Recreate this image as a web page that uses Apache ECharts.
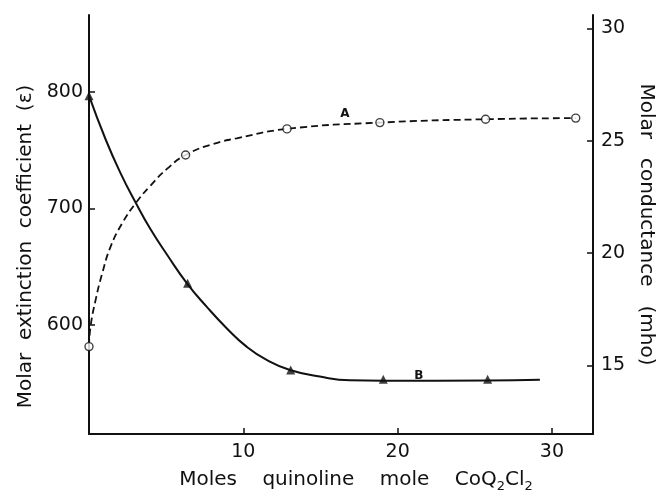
<!DOCTYPE html>
<html>
<head>
<meta charset="utf-8">
<script src="https://cdn.jsdelivr.net/npm/echarts@6/dist/echarts.min.js"></script>
<style>
  html, body { margin: 0; padding: 0; background: #fff; }
  #chart { width: 657px; height: 492px; }
</style>
</head>
<body>
<div id="chart"></div>
<script>
// measured points, [moles quinoline, value]
var pointsA = [[0, 15.83], [6.26, 24.36], [12.83, 25.52], [18.85, 25.8], [25.7, 25.95], [31.54, 26.0]];   // molar conductance
var pointsB = [[0, 796.6], [6.39, 635.8], [13.07, 561.5], [19.07, 553.5], [25.83, 553.5]];               // extinction coefficient

var curveA = [[0, 15.83], [0.10, 16.72], [0.43, 17.91], [0.86, 19.10], [1.40, 20.28], [2.15, 21.32],
    [3.02, 22.21], [3.99, 23.0], [5.07, 23.75], [6.26, 24.36], [8.05, 24.85], [9.57, 25.1],
    [12.83, 25.52], [18.85, 25.8], [25.7, 25.95], [31.54, 26.0]];
var curveB = [[0, 796.6], [1.08, 759], [2.05, 730], [3.02, 705], [3.99, 682], [5.07, 660],
    [6.36, 635.5], [7.62, 615.8], [8.92, 597.3], [10.21, 581.5], [11.51, 570.1], [13.02, 561.5],
    [14.96, 555.8], [16.91, 552.6], [19.07, 552.3], [25.83, 552.5], [29.22, 553]];

var xTicks = [10, 20, 30];
var leftTicks = [600, 700, 800];
var rightTicks = [15, 20, 25, 30];

var labelA = [16.58, 26.2];
var labelB = [21.38, 556];

var font = 'DejaVu Sans';
var ink = '#111';

var myChart = echarts.init(document.getElementById('chart'));

var axisCommon = {
    axisLine: { show: true, onZero: false, lineStyle: { color: ink, width: 2 } },
    axisTick: { show: true, inside: true, length: 6, lineStyle: { color: ink, width: 1.5 } },
    splitLine: { show: false },
    nameLocation: 'middle'
};

var option = {
    animation: false,
    backgroundColor: '#fff',
    grid: { left: 89, right: 64, top: 15, bottom: 58, outerBoundsMode: 'none', containLabel: false },
    xAxis: Object.assign({}, axisCommon, {
        type: 'value',
        min: 0,
        max: 32.66,
        axisTick: Object.assign({}, axisCommon.axisTick, { customValues: xTicks }),
        axisLabel: { customValues: xTicks, margin: 9, fontFamily: font, fontSize: 19, color: ink },
        name: 'Moles    quinoline    mole    CoQ{s|2}Cl{s|2}',
        nameGap: 28,
        nameTextStyle: {
            fontFamily: font, fontSize: 20, color: ink, lineHeight: 26,
            padding: [0, 0, 0, 30],
            rich: { s: { fontFamily: font, fontSize: 13, lineHeight: 12, verticalAlign: 'bottom', color: ink } }
        }
    }),
    yAxis: [
        Object.assign({}, axisCommon, {
            type: 'value',
            position: 'left',
            min: 506.6,
            max: 865.7,
            axisTick: Object.assign({}, axisCommon.axisTick, { customValues: leftTicks }),
            axisLabel: { customValues: leftTicks, margin: 6, fontFamily: font, fontSize: 19, color: ink },
            name: 'Molar  extinction  coefficient  (ε)',
            nameGap: 50,
            nameRotate: 90,
            nameTextStyle: { fontFamily: font, fontSize: 20, color: ink, padding: [0, 44, 0, 0] }
        }),
        Object.assign({}, axisCommon, {
            type: 'value',
            position: 'right',
            min: 11.94,
            max: 30.59,
            axisTick: Object.assign({}, axisCommon.axisTick, { customValues: rightTicks }),
            axisLabel: { customValues: rightTicks, margin: 8, fontFamily: font, fontSize: 19, color: ink },
            name: 'Molar   conductance   (mho)',
            nameGap: 41,
            nameRotate: -90,
            nameTextStyle: { fontFamily: font, fontSize: 20, color: ink }
        })
    ],
    series: [
        {
            name: 'A curve',
            type: 'line',
            yAxisIndex: 1,
            data: curveA,
            smooth: true,
            showSymbol: false,
            lineStyle: { color: ink, width: 1.8, type: [7, 4] },
            markPoint: {
                symbol: 'circle', symbolSize: 1,
                itemStyle: { color: 'transparent' },
                label: { show: true, formatter: 'A', fontFamily: font, fontSize: 12, fontWeight: 'bold', color: ink },
                data: [{ coord: labelA }]
            },
            z: 2
        },
        {
            name: 'B curve',
            type: 'line',
            yAxisIndex: 0,
            data: curveB,
            smooth: true,
            showSymbol: false,
            lineStyle: { color: ink, width: 2 },
            markPoint: {
                symbol: 'circle', symbolSize: 1,
                itemStyle: { color: 'transparent' },
                label: { show: true, formatter: 'B', fontFamily: font, fontSize: 12, fontWeight: 'bold', color: ink },
                data: [{ coord: labelB }]
            },
            z: 2
        },
        {
            name: 'A',
            type: 'scatter',
            yAxisIndex: 1,
            data: pointsA,
            symbol: 'circle',
            symbolSize: 8,
            itemStyle: { color: '#fff', borderColor: ink, borderWidth: 1.4 },
            z: 3
        },
        {
            name: 'B',
            type: 'scatter',
            yAxisIndex: 0,
            data: pointsB,
            symbol: 'triangle',
            symbolSize: 9,
            itemStyle: { color: ink },
            z: 3
        }
    ]
};

myChart.setOption(option);
</script>
</body>
</html>
